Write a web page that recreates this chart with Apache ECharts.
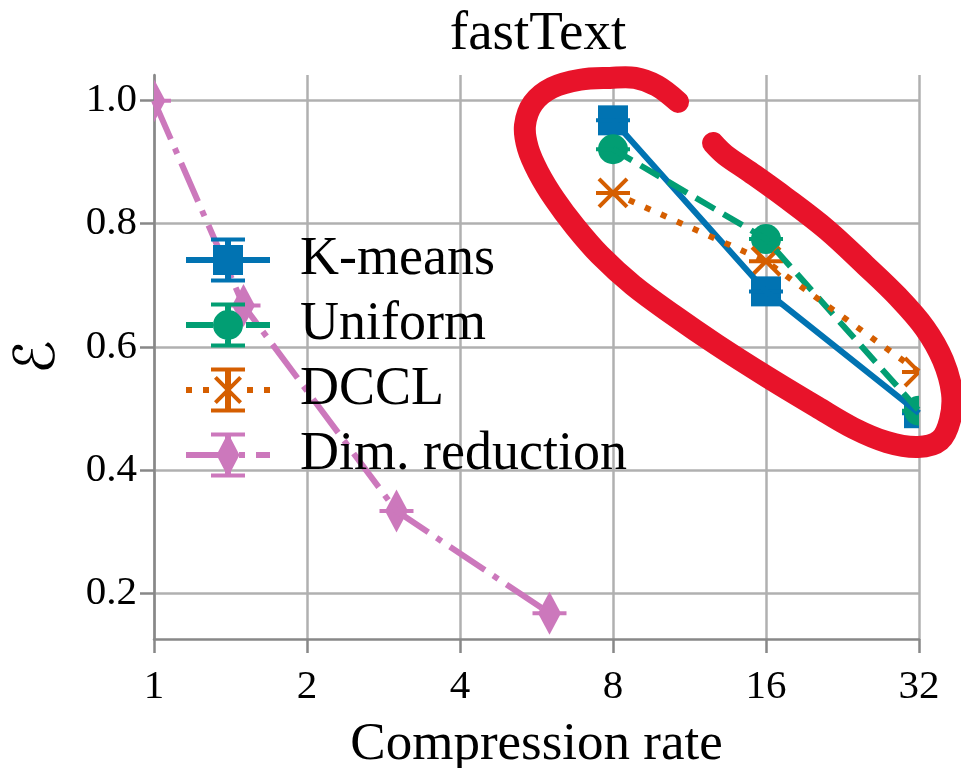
<!DOCTYPE html>
<html>
<head>
<meta charset="utf-8">
<script src="https://cdn.jsdelivr.net/npm/echarts@6/dist/echarts.min.js"></script>
<style>
  html, body { margin: 0; padding: 0; background: #fff; }
  #chart { width: 961px; height: 768px; }
</style>
</head>
<body>
<div id="chart"></div>
<script>
// ---- data ----
const titleText = 'fastText';
const xAxisName = 'Compression rate';
const yAxisName = 'ℰ';
const xTickValues = [1, 2, 4, 8, 16, 32];
const yTickValues = [0.2, 0.4, 0.6, 0.8, 1.0];

const quantRates = [8, 16, 32];
const kmeansValues = [0.968, 0.690, 0.492];
const uniformValues = [0.921, 0.775, 0.496];
const dcclValues = [0.850, 0.739, 0.559];

const dimRates = [1, 1.5, 3, 6];
const dimValues = [1.0, 0.667, 0.333, 0.167];

const seriesNames = ['K-means', 'Uniform', 'DCCL', 'Dim. reduction'];

// hand-drawn highlight loop, in data coordinates (rate, value)
const loopRates = [10.74, 9.77, 8.84, 7.89, 6.89, 6.07, 5.57, 5.37, 5.44, 5.70, 6.15, 6.74, 7.54, 8.76, 10.50, 12.81, 16.08, 20.16, 23.73, 27.68, 31.85, 35.19, 36.83, 37.16, 35.68, 32.88, 29.10, 25.05, 21.10, 17.44, 14.88, 13.29, 12.59];
const loopValues = [0.998, 1.024, 1.037, 1.037, 1.034, 1.021, 0.996, 0.960, 0.923, 0.884, 0.839, 0.795, 0.749, 0.700, 0.652, 0.603, 0.551, 0.502, 0.468, 0.445, 0.437, 0.448, 0.481, 0.525, 0.578, 0.630, 0.681, 0.733, 0.790, 0.843, 0.884, 0.912, 0.931];

// ---- styling ----
const COLORS = { 'K-means': '#0173b2', 'Uniform': '#029e73', 'DCCL': '#d55e00', 'Dim. reduction': '#cc78bc' };
const RED = '#e8132a';
const SERIF = "'Liberation Serif', 'DejaVu Serif', serif";
const LW = 6;

const zip = (xs, ys) => xs.map((x, i) => [x, ys[i]]);

// legend icons (line + marker + vertical error bar with caps), 84 x 45 box
const ERRBAR = ' M39 2H45V43H39Z M25 0H59V4H25Z M25 41H59V45H25Z';
const ICONS = {
  'K-means': 'path://M0 19.5H84V25.5H0Z M27 7.5H57V37.5H27Z' + ERRBAR,
  'Uniform': 'path://M0 19.5H27V25.5H0Z M60 19.5H84V25.5H60Z M57 22.5A15 15 0 1 1 27 22.5A15 15 0 1 1 57 22.5Z' + ERRBAR,
  'DCCL': 'path://M0 19.5H6V25.5H0Z M17 19.5H23V25.5H17Z M61 19.5H67V25.5H61Z M78 19.5H84V25.5H78Z M28 11.3L30.8 8.5L56 33.7L53.2 36.5Z M53.2 8.5L56 11.3L30.8 36.5L28 33.7Z' + ERRBAR,
  'Dim. reduction': 'path://M0 19.5H36V25.5H0Z M53 19.5H59V25.5H53Z M70 19.5H84V25.5H70Z M42 0.5L53.5 22.5L42 44.5L30.5 22.5Z' + ERRBAR
};

function markerRenderer(shape, color) {
  return function (params, api) {
    const c = api.coord([api.value(0), api.value(1)]);
    const x = c[0], y = c[1];
    const kids = [];
    if (shape === 'square') {
      kids.push({ type: 'rect', shape: { x: x - 15, y: y - 15, width: 30, height: 30 }, style: { fill: color } });
    } else if (shape === 'circle') {
      kids.push({ type: 'circle', shape: { cx: x, cy: y, r: 15 }, style: { fill: color } });
    } else if (shape === 'x') {
      kids.push({ type: 'line', shape: { x1: x - 14, y1: y - 14, x2: x + 14, y2: y + 14 }, style: { stroke: color, lineWidth: 4 } });
      kids.push({ type: 'line', shape: { x1: x - 14, y1: y + 14, x2: x + 14, y2: y - 14 }, style: { stroke: color, lineWidth: 4 } });
    } else if (shape === 'diamond') {
      kids.push({ type: 'polygon', shape: { points: [[x, y - 21.5], [x + 11.5, y], [x, y + 21.5], [x - 11.5, y]] }, style: { fill: color } });
    }
    // zero-length error bar cap
    kids.push({ type: 'rect', shape: { x: x - 17, y: y - 2, width: 34, height: 4 }, style: { fill: color } });
    return { type: 'group', children: kids };
  };
}

function lineSeries(name, data, dash) {
  return {
    name: name, type: 'line', data: data, symbol: 'none', clip: true,
    color: COLORS[name],
    lineStyle: { color: COLORS[name], width: LW, type: dash, cap: 'butt' },
    z: 2
  };
}
function markerSeries(name, data, shape) {
  return {
    name: name, type: 'custom', data: data, clip: true,
    encode: { x: 0, y: 1 },
    renderItem: markerRenderer(shape, COLORS[name]),
    z: 2
  };
}

const chart = echarts.init(document.getElementById('chart'), null, { renderer: 'canvas' });

const option = {
  animation: false,
  backgroundColor: '#ffffff',
  title: {
    text: titleText, left: 538, top: 7, textAlign: 'center', padding: 0,
    textStyle: { fontFamily: SERIF, fontSize: 55, fontWeight: 'normal', color: '#000' }
  },
  grid: { left: 154, right: 42, top: 75, bottom: 129, containLabel: false, outerBoundsMode: 'none' },
  legend: {
    orient: 'vertical', left: 186, top: 233, padding: 0,
    itemWidth: 84, itemHeight: 45, itemGap: 11,
    data: seriesNames.map(n => ({ name: n, icon: ICONS[n], itemStyle: { color: COLORS[n], borderWidth: 0 } })),
    textStyle: { fontFamily: SERIF, fontSize: 54, lineHeight: 45, color: '#000', padding: [0, 0, 0, 25] },
    selectedMode: false
  },
  xAxis: {
    type: 'log', logBase: 2, min: xTickValues[0], max: xTickValues[xTickValues.length - 1],
    name: xAxisName, nameLocation: 'middle', nameGap: 80,
    nameTextStyle: { fontFamily: SERIF, fontSize: 53, color: '#000' },
    axisLine: { show: true, lineStyle: { color: '#888888', width: 2.5 } },
    axisTick: { show: true, length: 14, lineStyle: { color: '#888888', width: 2.5 } },
    axisLabel: {
      margin: 28, fontFamily: SERIF, fontSize: 41, color: '#000',
      formatter: v => String(Math.round(v))
    },
    splitLine: { show: true, lineStyle: { color: '#b0b0b0', width: 2.5 } }
  },
  yAxis: {
    type: 'value', min: 0.125, max: 1.0417,
    name: yAxisName, nameLocation: 'middle', nameGap: 87, nameRotate: 90,
    nameTextStyle: { fontFamily: "'DejaVu Serif', 'DejaVu Sans', serif", fontSize: 56, color: '#000' },
    axisLine: { show: true, lineStyle: { color: '#888888', width: 2.5 } },
    axisTick: { show: true, length: 14, customValues: yTickValues, lineStyle: { color: '#888888', width: 2.5 } },
    axisLabel: {
      margin: 17, fontFamily: SERIF, fontSize: 41, color: '#000',
      customValues: yTickValues,
      formatter: v => Number(v).toFixed(1)
    },
    splitLine: { show: true, lineStyle: { color: '#b0b0b0', width: 2.5 } }
  },
  series: [
    lineSeries('K-means', zip(quantRates, kmeansValues), 'solid'),
    markerSeries('K-means', zip(quantRates, kmeansValues), 'square'),
    lineSeries('Uniform', zip(quantRates, uniformValues), [22, 10]),
    markerSeries('Uniform', zip(quantRates, uniformValues), 'circle'),
    lineSeries('DCCL', zip(quantRates, dcclValues), [6, 11.5]),
    markerSeries('DCCL', zip(quantRates, dcclValues), 'x'),
    lineSeries('Dim. reduction', zip(dimRates, dimValues), [42, 10, 6, 10]),
    markerSeries('Dim. reduction', zip(dimRates, dimValues), 'diamond'),
    {
      name: 'highlight', type: 'custom', clip: false, silent: true, z: 10,
      data: [[loopRates[0], loopValues[0]]],
      encode: { x: 0, y: 1 },
      renderItem: function (params, api) {
        const pts = loopRates.map((r, i) => api.coord([r, loopValues[i]]));
        return {
          type: 'polyline',
          shape: { points: pts, smooth: 0.35 },
          style: { stroke: RED, fill: null, lineWidth: 22, lineCap: 'round', lineJoin: 'round' }
        };
      }
    }
  ]
};

chart.setOption(option);
</script>
</body>
</html>
